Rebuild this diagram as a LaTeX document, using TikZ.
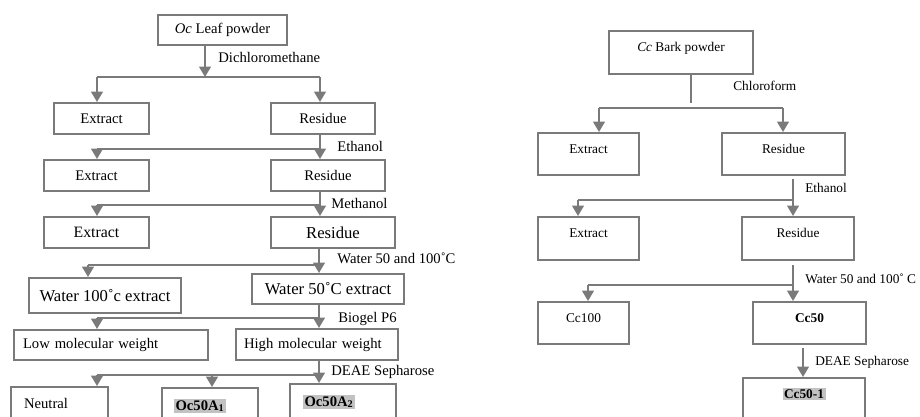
\documentclass[tikz,border=0pt]{standalone}
\usepackage{fontspec}
\setmainfont{Liberation Serif}
\usetikzlibrary{arrows.meta}

\newlength{\du}
\setlength{\du}{0.6pt}

\definecolor{hlgray}{rgb}{0.760000, 0.760000, 0.760000}
\newcommand{\hilite}[1]{{\setlength{\fboxsep}{0.9pt}\colorbox{hlgray}{\textbf{#1}}}}

\tikzset{
  box/.style={draw=dialinecolor, line width=2\du, anchor=north west, inner sep=0pt},
  leftfont/.style={font=\fontsize{8.8}{10}\selectfont},
  bigfont/.style={font=\fontsize{10}{12}\selectfont},
  rightfont/.style={font=\fontsize{8}{9.6}\selectfont},
  raised/.style={text height=6pt, text depth=#1},
  lbox/.style={box, align=left, text width=#1},
  ln/.style={draw=dialinecolor, line width=1.9\du},
  arr/.style={ln, -{Stealth[inset=0pt, length=6.2pt, width=7pt]}},
  lbl/.style={anchor=west, inner sep=0pt},
}

\begin{document}
\begin{tikzpicture}
\pgftransformxscale{1.000000}
\pgftransformyscale{-1.000000}
\definecolor{dialinecolor}{rgb}{0.480000, 0.480000, 0.480000}
\useasboundingbox (0\du,0\du) rectangle (920\du,416\du);
\clip (0\du,0\du) rectangle (920\du,416\du);

% Oc leaf, left scheme
\node[box, leftfont, minimum width=129\du, minimum height=30\du] (leaf) at (157\du,14\du) {\textit{Oc} Leaf powder};
\node[box, leftfont, minimum width=95\du, minimum height=31\du] (ext1) at (53\du,102\du) {Extract};
\node[box, leftfont, minimum width=104\du, minimum height=31\du] (res1) at (270\du,102\du) {Residue};
\node[box, leftfont, minimum width=105\du, minimum height=31\du] (ext2) at (43\du,159\du) {Extract};
\node[box, leftfont, minimum width=114\du, minimum height=31\du] (res2) at (270\du,159\du) {Residue};
\node[box, font=\fontsize{9.5}{11}\selectfont, minimum width=105\du, minimum height=31\du] (ext3) at (43\du,216\du) {Extract};
\node[box, bigfont, minimum width=124\du, minimum height=31\du] (res3) at (270\du,216\du) {Residue};
\node[box, bigfont, minimum width=152\du, minimum height=35\du] (w100) at (28\du,277\du) {Water 100˚c extract};
\node[box, bigfont, minimum width=152\du, minimum height=30\du] (w50) at (251\du,273\du) {Water 50˚C extract};
\node[lbox=176\du, leftfont, inner xsep=9\du, minimum height=30\du] (lmw) at (13\du,329\du) {Low molecular weight};
\node[lbox=146\du, leftfont, inner xsep=8\du, minimum height=31\du] (hmw) at (235\du,328\du) {High molecular weight};
\node[lbox=71\du, leftfont, inner xsep=13\du, minimum height=32\du] (neutral) at (10\du,386\du) {Neutral};
\node[lbox=72\du, leftfont, inner xsep=12\du, minimum height=36\du] (oca1) at (161\du,387\du) {\hilite{Oc50A\textsubscript{1}}};
\node[lbox=80\du, leftfont, inner xsep=13\du, minimum height=36\du] (oca2) at (289\du,383\du) {\hilite{Oc50A\textsubscript{2}}};

\coordinate (dcmM) at (205\du,77\du);
\coordinate (dcmL) at (97\du,77\du);
\coordinate (dcmR) at (320\du,77\du);
\draw[arr] (leaf.south -| dcmM) -- (dcmM);
\draw[ln] (dcmL) -- (dcmR);
\draw[arr] (dcmL) -- (dcmL |- ext1.north);
\draw[arr] (dcmR) -- (dcmR |- res1.north);

\coordinate (etoL) at (97\du,149\du);
\coordinate (etoR) at (320\du,149\du);
\draw[arr] (res1.south -| etoR) -- (etoR |- res2.north);
\draw[ln] (etoL) -- (etoR);
\draw[arr] (etoL) -- (etoL |- ext2.north);

\coordinate (meoL) at (97\du,205\du);
\coordinate (meoR) at (320\du,205\du);
\draw[arr] (res2.south -| meoR) -- (meoR |- res3.north);
\draw[ln] (meoL) -- (meoR);
\draw[arr] (meoL) -- (meoL |- ext3.north);

\coordinate (watL) at (88\du,265\du);
\coordinate (watR) at (319\du,265\du);
\draw[arr] (res3.south -| watR) -- (watR |- w50.north);
\draw[ln] (watL) -- (watR);
\draw[arr] (watL) -- (watL |- w100.north);

\coordinate (bioL) at (97\du,318\du);
\coordinate (bioR) at (319\du,318\du);
\draw[arr] (w50.south -| bioR) -- (bioR |- hmw.north);
\draw[ln] (bioL) -- (bioR);
\draw[arr] (bioL) -- (bioL |- lmw.north);

\coordinate (deaL) at (97\du,375\du);
\coordinate (deaM) at (212\du,375\du);
\coordinate (deaR) at (319\du,375\du);
\draw[arr] (hmw.south -| deaR) -- (deaR |- oca2.north);
\draw[ln] (deaL) -- (deaR);
\draw[arr] (deaM) -- (deaM |- oca1.north);
\draw[arr] (deaL) -- (deaL |- neutral.north);

\node[lbl, leftfont] (tDcm) at (218\du,57\du) {Dichloromethane};
\node[lbl, leftfont] (tEto) at (337\du,146\du) {Ethanol};
\node[lbl, leftfont] (tMeo) at (331\du,203\du) {Methanol};
\node[lbl, leftfont] (tWat) at (337\du,258\du) {Water 50 and 100˚C};
\node[lbl, leftfont] (tBio) at (338\du,319\du) {Biogel P6};
\node[lbl, leftfont] (tDea) at (331\du,372\du) {DEAE Sepharose};

% Cc bark, right scheme
\node[box, rightfont, raised=7pt, minimum width=144\du, minimum height=43\du] (bark) at (608\du,30\du) {\textit{Cc} Bark powder};
\node[box, rightfont, raised=7pt, minimum width=101\du, minimum height=42\du] (rext1) at (537\du,132\du) {Extract};
\node[box, rightfont, raised=7pt, minimum width=123\du, minimum height=42\du] (rres1) at (721\du,132\du) {Residue};
\node[box, rightfont, raised=7pt, minimum width=101\du, minimum height=43\du] (rext2) at (537\du,216\du) {Extract};
\node[box, rightfont, raised=7pt, minimum width=112\du, minimum height=43\du] (rres2) at (741\du,216\du) {Residue};
\node[box, rightfont, raised=7pt, minimum width=91\du, minimum height=42\du] (cc100) at (537\du,301\du) {Cc100};
\node[box, rightfont, raised=7pt, minimum width=113\du, minimum height=42\du] (cc50) at (752\du,301\du) {\textbf{Cc50}};
\node[box, rightfont, raised=9.1pt, minimum width=122\du, minimum height=46\du] (cc501) at (742\du,377\du) {\hilite{Cc50-1}};

\coordinate (chlS) at (691\du,103\du);
\coordinate (chlL) at (599\du,108\du);
\coordinate (chlR) at (783\du,108\du);
\draw[ln] (bark.south -| chlS) -- (chlS);
\draw[ln] (chlL) -- (chlR);
\draw[arr] (chlL) -- (chlL |- rext1.north);
\draw[arr] (chlR) -- (chlR |- rres1.north);

\coordinate (retL) at (578\du,200\du);
\coordinate (retR) at (793\du,200\du);
\draw[arr, shorten <=3\du] (rres1.south -| retR) -- (retR |- rres2.north);
\draw[ln] (retL) -- (retR);
\draw[arr] (retL) -- (retL |- rext2.north);

\coordinate (rwaL) at (588\du,285\du);
\coordinate (rwaR) at (793\du,285\du);
\draw[arr, shorten <=4\du] (rres2.south -| rwaR) -- (rwaR |- cc50.north);
\draw[ln] (rwaL) -- (rwaR);
\draw[arr] (rwaL) -- (rwaL |- cc100.north);

\coordinate (rdeX) at (803\du,360\du);
\draw[arr, shorten <=3\du] (cc50.south -| rdeX) -- (rdeX |- cc501.north);

\node[lbl, rightfont] (tChl) at (733\du,86\du) {Chloroform};
\node[lbl, rightfont] (tRet) at (805\du,188\du) {Ethanol};
\node[lbl, rightfont] (tRwa) at (805\du,279\du) {Water 50 and 100˚ C};
\node[lbl, rightfont] (tRde) at (815\du,362\du) {DEAE Sepharose};
\end{tikzpicture}
\end{document}
